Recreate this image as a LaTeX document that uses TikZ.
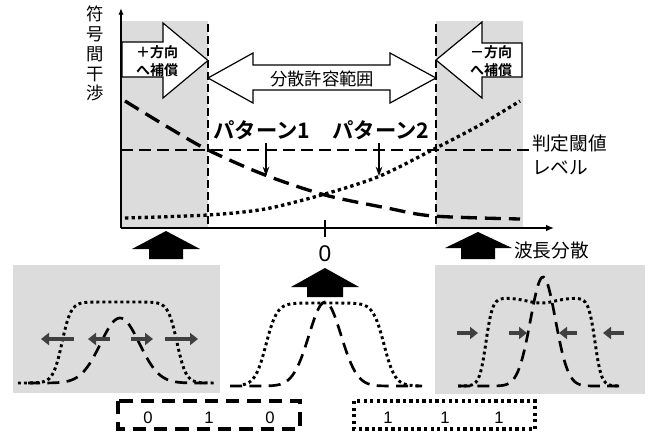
\documentclass[tikz,border=0pt]{standalone}
\usepackage{fontspec}
\setmainfont{Liberation Sans}
\newfontfamily\jp{Noto Sans CJK JP}[BoldFont={Noto Sans CJK JP Bold}]
\usetikzlibrary{arrows.meta}
\definecolor{band}{HTML}{DCDCDC}
\definecolor{darr}{HTML}{404040}
\tikzset{
  declare function={
    sg(\t)=tanh(max(-6,min(6,\t)));
    ga(\t)=exp(-min(20,(\t)^2/2));
  },
  thickdash/.style={line width=2.5pt,dash pattern=on 12pt off 6pt},
  thickdot/.style={line width=2.5pt,dash pattern=on 2.5pt off 2.4pt},
  boxdash/.style={line width=2.3pt,dash pattern=on 10pt off 6pt},
  pulsedash/.style={line width=2pt,dash pattern=on 9pt off 5.5pt},
  pulsedot/.style={line width=2.2pt,dash pattern=on 2.2pt off 2.3pt},
  vdash/.style={line width=0.8pt,dash pattern=on 6pt off 3pt},
  blockarrow/.style={draw=black,line width=0.9pt,fill=white,line join=miter},
  upblock/.style={fill=black},
  grayarrow/.style={draw=darr,line width=3pt,-{Triangle[length=6pt,width=9pt]}},
  jplabel/.style={font=\jp\fontsize{14}{16}\selectfont,inner sep=0pt},
  patlabel/.style={font=\jp\bfseries\fontsize{16}{18}\selectfont,inner sep=0pt},
  complabel/.style={font=\jp\bfseries\fontsize{10.5}{13}\selectfont,inner sep=0pt,align=center},
  bitlabel/.style={font=\fontsize{12.5}{14}\selectfont,inner sep=0pt},
}
\begin{document}
\begin{tikzpicture}[x=0.75pt,y=-0.75pt]
\useasboundingbox (0,0) rectangle (650,432);

% ---------- upper graph ----------
\fill[band] (121,21) rectangle (208,228);
\fill[band] (436,21) rectangle (523,228);

% threshold line
\draw[line width=1.1pt,dash pattern=on 9pt off 4.5pt] (121,150) -- (530,150);

% vertical dashed borders
\draw[vdash] (208,24) -- (208,228);
\draw[vdash] (436,24) -- (436,228);

% block arrows
\draw[blockarrow] (122,42) -- (163,42) -- (163,23) -- (208,60.5) -- (163,98) -- (163,77) -- (122,77) -- cycle;
\draw[blockarrow] (522,43) -- (482,43) -- (482,22) -- (436,60) -- (482,98) -- (482,77) -- (522,77) -- cycle;
\draw[blockarrow] (208,78) -- (253,53) -- (253,65) -- (390,65) -- (390,53) -- (436,78) -- (390,103) -- (390,90) -- (253,90) -- (253,103) -- cycle;

\node[complabel] (plus) at (157,61) {＋方向\\へ補償};
\node[complabel] (minus) at (491,61) {－方向\\へ補償};
\node[font=\jp\fontsize{13}{15}\selectfont,inner sep=0pt] (range) at (322,79) {分散許容範囲};

% curves
\draw[thickdash] plot[smooth] coordinates {(125,101) (166,126) (208,150) (265,175) (325,195) (387,208) (433,216) (520,219)};
\draw[thickdot] plot[smooth] coordinates {(125,218) (208,215) (265,209) (325,194) (380,176) (436,148) (480,125) (520,101)};

% pattern labels
\node[patlabel] (p1) at (262,130) {パターン1};
\node[patlabel] (p2) at (381,130) {パターン2};
\coordinate (p1e) at (266,176);
\coordinate (p2e) at (379,176);
\draw[line width=0.9pt,-{Stealth[length=7pt,width=5pt]}] (p1.south -| p1e) ++(0,3) -- (p1e);
\draw[line width=0.9pt,-{Stealth[length=7pt,width=5pt]}] (p2.south -| p2e) ++(0,3) -- (p2e);

% axes
\coordinate (O) at (121,228);
\coordinate (ytop) at (121,8);
\coordinate (xend) at (554,228);
\draw[line width=1.1pt,-{Latex[length=5pt,width=4pt]}] (O) -- (ytop);
\draw[line width=1.1pt,-{Latex[length=6pt,width=5pt]}] (O) -- (xend);
\coordinate (t1) at (325,220);
\coordinate (t2) at (325,237);
\draw[line width=1.1pt] (t1) -- (t2);

\node[font=\fontsize{17}{19}\selectfont,inner sep=0pt] (zero) at (325,254) {0};
\node[jplabel,anchor=west] (disp) at (514,250) {波長分散};
\node[jplabel,anchor=west] (thr1) at (532,143) {判定閾値};
\node[jplabel,anchor=west] (thr2) at (532,168) {レベル};
\node[font=\jp\fontsize{13}{14.8}\selectfont,inner sep=0pt,align=center,anchor=north] (ylab) at (95,6) {符\\号\\間\\干\\渉};

% black up arrows
\fill[upblock] (166,231) -- (200,249) -- (183,249) -- (183,259) -- (149,259) -- (149,249) -- (132,249) -- cycle;
\fill[upblock] (325,268) -- (359,287) -- (343,287) -- (343,297) -- (307,297) -- (307,287) -- (291,287) -- cycle;
\fill[upblock] (478,232) -- (512,248) -- (495,248) -- (495,259) -- (461,259) -- (461,248) -- (445,248) -- cycle;

% ---------- lower panels ----------
\fill[band] (13,265) rectangle (220,393);
\fill[band] (435,265) rectangle (645,394);

% left panel
\draw[pulsedot] plot[domain=18:215,samples=90,smooth] (\x,{383-81*0.5*(sg((\x-62)/9)-sg((\x-177)/9))});
\draw[pulsedash] plot[domain=28:205,samples=90,smooth] (\x,{383-65*ga((\x-120)/19.5)});
\draw[grayarrow] (74,339) -- (41,339);
\draw[grayarrow] (110,339) -- (88,339);
\draw[grayarrow] (131,339) -- (153,339);
\draw[grayarrow] (165,339) -- (198,339);

% middle panel
\draw[pulsedot] plot[domain=243:421,samples=90,smooth] (\x,{386-83*0.5*(sg((\x-266)/11)-sg((\x-384)/11))});
\draw[pulsedash] plot[domain=230:422,samples=90,smooth] (\x,{386-84*ga((\x-325)/16)});

% right panel
\draw[pulsedot] plot[domain=458:620,samples=90,smooth] (\x,{386-88*0.5*(sg((\x-486)/6.5)-sg((\x-595)/6.5))+5*ga((\x-541)/14)});
\draw[pulsedash] plot[domain=458:620,samples=90,smooth] (\x,{386-109*ga((\x-543)/12.5)});
\draw[grayarrow] (457,333) -- (478,333);
\draw[grayarrow] (509,333) -- (527,333);
\draw[grayarrow] (577,333) -- (559,333);
\draw[grayarrow] (624,333) -- (603,333);

% bit boxes
\draw[boxdash] (118,401) rectangle (300,429);
\node[bitlabel] (b1) at (148,418) {0};
\node[bitlabel] (b2) at (209,418) {1};
\node[bitlabel] (b3) at (270,418) {0};
\draw[thickdot] (354,401) rectangle (535,429);
\node[bitlabel] (c1) at (388,418) {1};
\node[bitlabel] (c2) at (445,418) {1};
\node[bitlabel] (c3) at (499,418) {1};
\end{tikzpicture}
\end{document}
